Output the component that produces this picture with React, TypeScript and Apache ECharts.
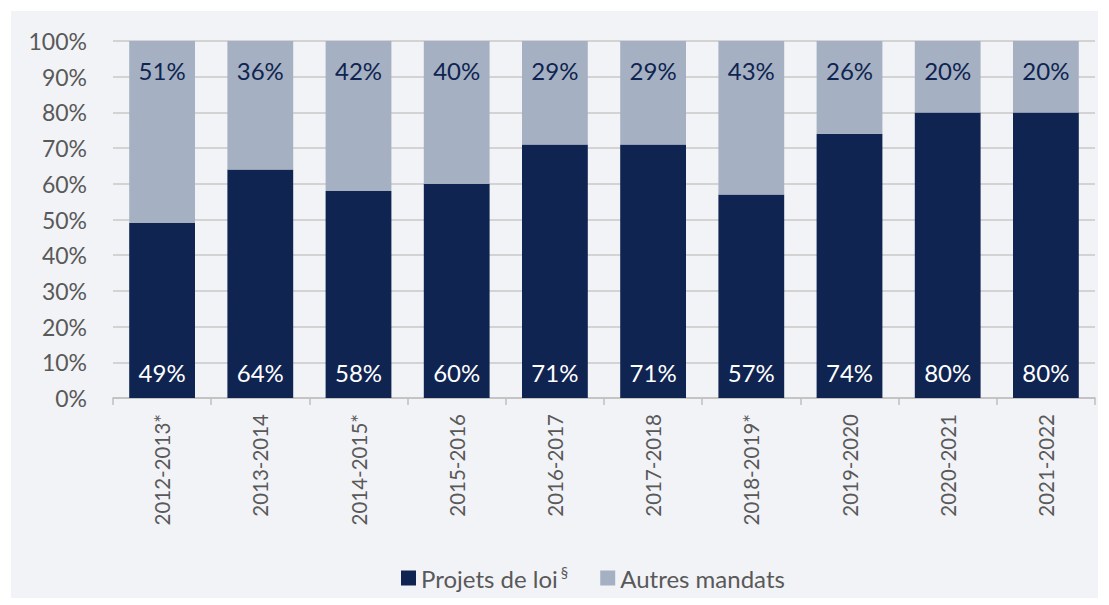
import React, { useEffect, useRef } from "react";
import * as echarts from "echarts";

const categories = ["2012-2013*", "2013-2014", "2014-2015*", "2015-2016", "2016-2017", "2017-2018", "2018-2019*", "2019-2020", "2020-2021", "2021-2022"];
const projetsDeLoi = [49, 64, 58, 60, 71, 71, 57, 74, 80, 80];
const autresMandats = [51, 36, 42, 40, 29, 29, 43, 26, 20, 20];
const yTicks = { min: 0, max: 100, interval: 10 };

const FONT = "Lato, 'Open Sans', sans-serif";

export default function App() {
  const ref = useRef<HTMLDivElement>(null);
  useEffect(() => {
    document.body.style.margin = "0";
    const chart = echarts.init(ref.current!, null, { renderer: "svg" });
    chart.setOption({
      animation: false,
      backgroundColor: "#ffffff",
      graphic: [
        {
          type: "rect",
          z: -10,
          silent: true,
          shape: { x: 11, y: 11, width: 1087, height: 587 },
          style: { fill: "#f2f3f7" },
        },
      ],
      textStyle: { fontFamily: FONT },
      grid: { left: 113, right: 14, top: 41, bottom: 207, containLabel: false },
      legend: {
        bottom: 10,
        left: 396,
        itemWidth: 15,
        itemHeight: 15,
        itemGap: 32,
        icon: "rect",
        data: ["Projets de loi", "Autres mandats"],
        formatter: (name: string) => (name === "Projets de loi" ? "{a|Projets de loi}{s|§}" : "{a|" + name + "}"),
        textStyle: {
          color: "#595959",
          fontSize: 24,
          fontFamily: FONT,
          rich: {
            a: { fontSize: 24, color: "#595959", fontFamily: FONT },
            s: { fontSize: 15, color: "#595959", fontFamily: FONT, verticalAlign: "top", padding: [0, 0, 12, 3] },
          },
        },
      },
      xAxis: {
        type: "category",
        data: categories,
        axisLine: { lineStyle: { color: "#bfbfbf", width: 1.5 } },
        axisTick: { show: true, length: 7, lineStyle: { color: "#bfbfbf", width: 1.5 } },
        axisLabel: { rotate: 90, color: "#595959", fontSize: 20.5, margin: 16, fontFamily: FONT },
      },
      yAxis: {
        type: "value",
        min: yTicks.min,
        max: yTicks.max,
        interval: yTicks.interval,
        axisLabel: { formatter: "{value}%", color: "#595959", fontSize: 23, margin: 26, fontFamily: FONT },
        axisLine: { show: false },
        axisTick: { show: false },
        splitLine: { lineStyle: { color: "#c8c8c8", width: 1.5 } },
      },
      series: [
        {
          name: "Projets de loi",
          type: "bar",
          stack: "total",
          data: projetsDeLoi,
          barWidth: "67%",
          itemStyle: { color: "#0f2451" },
          label: {
            show: true,
            position: "insideBottom",
            distance: 14,
            formatter: "{c}%",
            color: "#ffffff",
            fontSize: 24,
            fontFamily: FONT,
          },
        },
        {
          name: "Autres mandats",
          type: "bar",
          stack: "total",
          data: autresMandats,
          barWidth: "67%",
          itemStyle: { color: "#a5b1c2" },
          label: {
            show: true,
            position: "insideTop",
            distance: 17,
            formatter: "{c}%",
            color: "#0f2451",
            fontSize: 24,
            fontFamily: FONT,
          },
        },
      ],
    });
    return () => chart.dispose();
  }, []);
  return <div ref={ref} style={{ width: 1109, height: 605 }} />;
}
